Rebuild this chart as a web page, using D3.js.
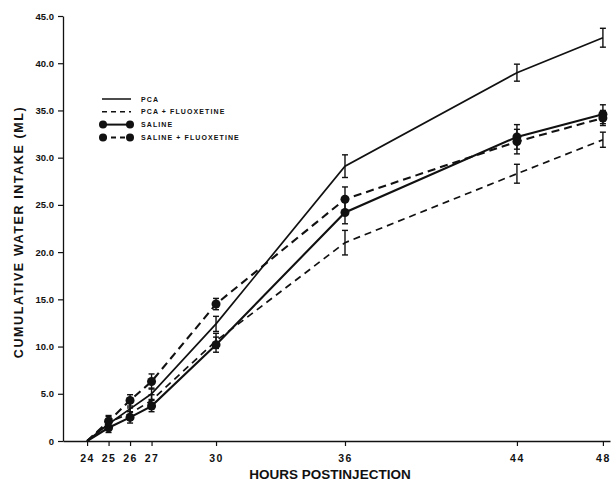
<!DOCTYPE html>
<html><head><meta charset="utf-8">
<script src="https://cdn.jsdelivr.net/npm/d3@7"></script>
<style>body{margin:0;background:#fff}svg{display:block}text{font-family:"Liberation Sans",Arial,sans-serif;fill:#111}</style>
</head><body><svg id="c" width="613" height="484"></svg>
<script>
const hours = [24, 25, 26, 27, 30, 36, 44, 48];
const xTickLabels = ["24","25","26","27","30","36","44","48"];
const yTicks = [0,5,10,15,20,25,30,35,40,45];
const pca = [0, 1.8, 3.4, 5.0, 12.4, 29.1, 39.0, 42.7];
const pcaErr = [0, 0.5, 0.6, 0.6, 0.8, 1.2, 0.9, 1.0];
const pcaFlx = [0, 2.0, 2.9, 4.3, 10.6, 21.0, 28.3, 31.9];
const pcaFlxErr = [0, 0.6, 0.6, 0.6, 0.8, 1.3, 1.0, 0.8];
const saline = [0, 1.4, 2.5, 3.7, 10.2, 24.2, 32.2, 34.6];
const salineErr = [0, 0.5, 0.6, 0.6, 0.8, 1.2, 1.3, 1.0];
const salineFlx = [0, 2.1, 4.3, 6.3, 14.5, 25.6, 31.7, 34.2];
const salineFlxErr = [0, 0.6, 0.6, 0.8, 0.6, 1.3, 1.3, 0.8];
const seriesNames = ["PCA", "PCA + FLUOXETINE", "SALINE", "SALINE + FLUOXETINE"];

const series = [
  {name: seriesNames[0], v: pca, e: pcaErr, dash: null, marker: false, w: 1.7},
  {name: seriesNames[1], v: pcaFlx, e: pcaFlxErr, dash: "7,5", marker: false, w: 1.7},
  {name: seriesNames[2], v: saline, e: salineErr, dash: null, marker: true, w: 2.1},
  {name: seriesNames[3], v: salineFlx, e: salineFlxErr, dash: "8,5", marker: true, w: 2.1}
];

const svg = d3.select("#c");
svg.append("rect").attr("width",613).attr("height",484).attr("fill","#fff");
const x = d3.scaleLinear().domain([22.88, 48.33]).range([63, 610]);
const y = d3.scaleLinear().domain([0, 45]).range([441, 16]);

// axes
const xa = svg.append("g").attr("transform","translate(0,441)")
  .call(d3.axisBottom(x).tickValues(hours).tickSize(5).tickSizeOuter(0)
    .tickFormat((d,i)=>xTickLabels[i]));
xa.select(".domain").attr("stroke","#111").attr("stroke-width",1.3);
xa.selectAll(".tick line").attr("stroke","#111").attr("stroke-width",1.2);
xa.selectAll(".tick text").attr("dy","1.25em").style("font-size","10.5px").style("font-weight","bold").style("letter-spacing","1.5px");

const ya = svg.append("g").attr("transform","translate(63,0)")
  .call(d3.axisLeft(y).tickValues(yTicks).tickSize(5).tickSizeOuter(0)
    .tickFormat(d => d === 0 ? "0" : d.toFixed(1)));
ya.select(".domain").attr("stroke","#111").attr("stroke-width",1.3);
ya.selectAll(".tick line").attr("stroke","#111").attr("stroke-width",1.2);
ya.selectAll(".tick text").attr("x",-9).style("font-size","9.5px").style("font-weight","bold");

svg.append("text").attr("x",330).attr("y",479).attr("text-anchor","middle")
  .style("font-size","13.5px").style("font-weight","bold").text("HOURS POSTINJECTION");
svg.append("text").attr("transform","translate(23,232) rotate(-90)").attr("text-anchor","middle")
  .style("font-size","12.5px").style("font-weight","bold").style("letter-spacing","1.6px")
  .text("CUMULATIVE  WATER  INTAKE  (ML)");

// lines
const line = d3.line().x((d,i)=>x(hours[i])).y(d=>y(d));
series.forEach(s => {
  svg.append("path").datum(s.v).attr("d", line).attr("fill","none")
    .attr("stroke","#111").attr("stroke-width",s.w)
    .attr("stroke-dasharray", s.dash);
  // error bars
  const g = svg.append("g");
  hours.forEach((h,i) => {
    if (s.e[i] <= 0) return;
    const cx = x(h), y1 = y(s.v[i]+s.e[i]), y2 = y(s.v[i]-s.e[i]);
    g.append("line").attr("x1",cx).attr("x2",cx).attr("y1",y1).attr("y2",y2).attr("stroke","#111").attr("stroke-width",1.4);
    g.append("line").attr("x1",cx-3).attr("x2",cx+3).attr("y1",y1).attr("y2",y1).attr("stroke","#111").attr("stroke-width",1.4);
    g.append("line").attr("x1",cx-3).attr("x2",cx+3).attr("y1",y2).attr("y2",y2).attr("stroke","#111").attr("stroke-width",1.4);
  });
  if (s.marker) {
    svg.append("g").selectAll("circle").data(s.v.slice(1)).join("circle")
      .attr("cx",(d,i)=>x(hours[i+1])).attr("cy",d=>y(d)).attr("r",4.5).attr("fill","#111");
  }
});

// legend
const lg = svg.append("g");
series.forEach((s,i) => {
  const ly = 99 + i*12.8;
  lg.append("line").attr("x1",102).attr("x2",131).attr("y1",ly).attr("y2",ly)
    .attr("stroke","#111").attr("stroke-width",s.marker?2:1.5).attr("stroke-dasharray", s.dash ? "5,4" : null);
  if (s.marker) {
    lg.append("circle").attr("cx",103).attr("cy",ly).attr("r",4).attr("fill","#111");
    lg.append("circle").attr("cx",130).attr("cy",ly).attr("r",4).attr("fill","#111");
  }
  lg.append("text").attr("x",141).attr("y",ly+2.5).style("font-size","7px").style("font-weight","bold")
    .style("letter-spacing","1.1px").text(s.name);
});
</script></body></html>
